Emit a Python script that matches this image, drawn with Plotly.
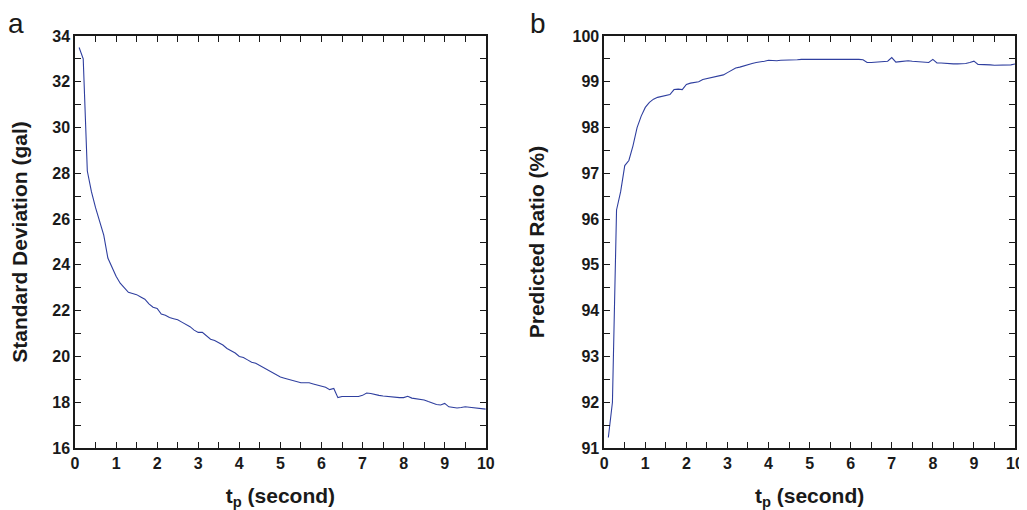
import plotly.graph_objects as go
from plotly.subplots import make_subplots

# Panel a: standard deviation vs t_p
x_a = [0.1, 0.2, 0.3, 0.4, 0.5, 0.6, 0.7, 0.8, 0.9, 1.0, 1.1, 1.2, 1.3, 1.4, 1.5, 1.6, 1.7, 1.8, 1.9, 2.0,
       2.1, 2.2, 2.3, 2.4, 2.5, 2.6, 2.7, 2.8, 2.9, 3.0, 3.1, 3.2, 3.3, 3.4, 3.5, 3.6, 3.7, 3.8, 3.9, 4.0,
       4.1, 4.2, 4.3, 4.4, 4.5, 4.6, 4.7, 4.8, 4.9, 5.0, 5.1, 5.2, 5.3, 5.4, 5.5, 5.6, 5.7, 5.8, 5.9, 6.0,
       6.1, 6.2, 6.3, 6.4, 6.5, 6.6, 6.7, 6.8, 6.9, 7.0, 7.1, 7.2, 7.3, 7.4, 7.5, 7.6, 7.7, 7.8, 7.9, 8.0,
       8.1, 8.2, 8.3, 8.4, 8.5, 8.6, 8.7, 8.8, 8.9, 9.0, 9.1, 9.2, 9.3, 9.4, 9.5, 9.6, 9.7, 9.8, 9.9, 10.0]
sd_a = [33.5, 33.0, 28.1, 27.2, 26.5, 25.9, 25.3, 24.3, 23.9, 23.5, 23.2, 23.0, 22.8, 22.75, 22.7, 22.6, 22.5, 22.3, 22.15, 22.1,
        21.85, 21.8, 21.7, 21.65, 21.6, 21.5, 21.4, 21.3, 21.15, 21.05, 21.05, 20.9, 20.75, 20.7, 20.6, 20.5, 20.35, 20.25, 20.15, 20.0,
        19.95, 19.85, 19.75, 19.7, 19.6, 19.5, 19.4, 19.3, 19.2, 19.1, 19.05, 19.0, 18.95, 18.9, 18.85, 18.85, 18.85, 18.8, 18.75, 18.7,
        18.65, 18.55, 18.6, 18.2, 18.25, 18.25, 18.25, 18.25, 18.25, 18.3, 18.4, 18.38, 18.33, 18.3, 18.27, 18.25, 18.22, 18.2, 18.2, 18.2,
        18.26, 18.18, 18.15, 18.12, 18.1, 18.03, 17.95, 17.9, 17.88, 17.95, 17.8, 17.78, 17.75, 17.77, 17.8, 17.78, 17.76, 17.75, 17.75, 17.7]

# Panel b: predicted ratio vs t_p
x_b = [0.1, 0.2, 0.3, 0.4, 0.5, 0.6, 0.7, 0.8, 0.9, 1.0, 1.1, 1.2, 1.3, 1.4, 1.5, 1.6, 1.7, 1.8, 1.9, 2.0,
       2.1, 2.2, 2.3, 2.4, 2.5, 2.6, 2.7, 2.8, 2.9, 3.0, 3.1, 3.2, 3.3, 3.4, 3.5, 3.6, 3.7, 3.8, 3.9, 4.0,
       4.1, 4.2, 4.3, 4.4, 4.5, 4.6, 4.7, 4.8, 4.9, 5.0, 5.1, 5.2, 5.3, 5.4, 5.5, 5.6, 5.7, 5.8, 5.9, 6.0,
       6.1, 6.2, 6.3, 6.4, 6.5, 6.6, 6.7, 6.8, 6.9, 7.0, 7.1, 7.2, 7.3, 7.4, 7.5, 7.6, 7.7, 7.8, 7.9, 8.0,
       8.1, 8.2, 8.3, 8.4, 8.5, 8.6, 8.7, 8.8, 8.9, 9.0, 9.1, 9.2, 9.3, 9.4, 9.5, 9.6, 9.7, 9.8, 9.9, 10.0]
ratio_b = [91.23, 92.0, 96.2, 96.6, 97.17, 97.28, 97.6, 98.0, 98.25, 98.44, 98.55, 98.62, 98.66, 98.68, 98.7, 98.72, 98.83, 98.84, 98.83, 98.94,
           98.97, 98.98, 99.0, 99.05, 99.07, 99.1, 99.12, 99.13, 99.15, 99.2, 99.25, 99.3, 99.32, 99.35, 99.38, 99.4, 99.42, 99.43, 99.45, 99.47,
           99.46, 99.46, 99.47, 99.47, 99.48, 99.48, 99.48, 99.49, 99.49, 99.49, 99.5, 99.5, 99.5, 99.5, 99.5, 99.5, 99.5, 99.5, 99.5, 99.5,
           99.5, 99.49, 99.48, 99.42, 99.42, 99.43, 99.44, 99.45, 99.45, 99.53, 99.43, 99.44, 99.45, 99.46, 99.45, 99.44, 99.43, 99.43, 99.42, 99.49,
           99.41, 99.41, 99.4, 99.4, 99.39, 99.39, 99.39, 99.4, 99.42, 99.45, 99.38, 99.38, 99.37, 99.37, 99.36, 99.36, 99.36, 99.37, 99.37, 99.39]

x_ticks = [i * 0.5 for i in range(21)]
x_text = [str(int(v)) if v == int(v) else "" for v in x_ticks]
ya_ticks = list(range(16, 35))
ya_text = [str(v) if v % 2 == 0 else "" for v in ya_ticks]
yb_ticks = [91 + i * 0.5 for i in range(19)]
yb_text = [str(int(v)) if v == int(v) else "" for v in yb_ticks]

LINE = "#2f3f9f"
fig = make_subplots(rows=1, cols=2, horizontal_spacing=0.126)
fig.add_trace(go.Scatter(x=x_a, y=sd_a, mode="lines", line=dict(color=LINE, width=1.1)), row=1, col=1)
fig.add_trace(go.Scatter(x=x_b, y=ratio_b, mode="lines", line=dict(color=LINE, width=1.1)), row=1, col=2)

tickfont = dict(family="Liberation Sans, Arial", size=16, color="#1a1a1a", weight="bold")
titlefont = dict(family="Liberation Sans, Arial", size=21, color="#1a1a1a", weight="bold")
common = dict(showgrid=False, zeroline=False, showline=True, linecolor="#1a1a1a", linewidth=1.5,
              mirror="ticks", ticks="inside", ticklen=6, tickwidth=1.2, tickcolor="#1a1a1a",
              tickfont=tickfont, tickmode="array", automargin=False)

fig.update_xaxes(range=[0, 10], tickvals=x_ticks, ticktext=x_text,
                 title=dict(text="t<sub>p</sub> (second)", font=titlefont, standoff=17), **common)
fig.update_yaxes(range=[16, 34], tickvals=ya_ticks, ticktext=ya_text,
                 title=dict(text="Standard Deviation (gal)", font=titlefont, standoff=19), row=1, col=1, **common)
fig.update_yaxes(range=[91, 100], tickvals=yb_ticks, ticktext=yb_text,
                 title=dict(text="Predicted Ratio (%)", font=titlefont, standoff=22), row=1, col=2, **common)

labelfont = dict(family="Liberation Sans, Arial", size=28, color="#1a1a1a")
fig.add_annotation(text="a", xref="paper", yref="paper", x=-0.073, y=1.03, showarrow=False,
                   font=labelfont, xanchor="left", yanchor="middle")
fig.add_annotation(text="b", xref="paper", yref="paper", x=0.482, y=1.03, showarrow=False,
                   font=labelfont, xanchor="left", yanchor="middle")

fig.update_layout(width=1019, height=502, margin=dict(l=67, r=12, t=28, b=62),
                  paper_bgcolor="white", plot_bgcolor="white", showlegend=False)
fig.write_html("out.html")
